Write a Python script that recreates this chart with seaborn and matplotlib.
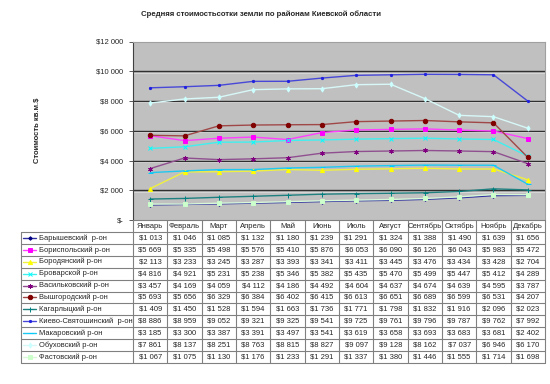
import numpy as np
import pandas as pd
import matplotlib
matplotlib.use("Agg")
import matplotlib.pyplot as plt
from matplotlib.lines import Line2D
import seaborn as sns

months = ["Январь", "Февраль", "Март", "Апрель", "Май", "Июнь", "Июль",
          "Август", "Сентябрь", "Октябрь", "Ноябрь", "Декабрь"]

districts = ["Барышевский  р-он", "Бориспольский р-он", "Бородянский р-он",
             "Броварской р-он", "Васильковский р-он", "Вышгородский р-он",
             "Кагарлыцкий р-он", "Киево-Святошинский  р-он", "Макаровский р-он",
             "Обуховский р-он", "Фастовский р-он"]

baryshevsky = [1013, 1046, 1085, 1132, 1180, 1239, 1291, 1324, 1388, 1490, 1639, 1656]
borispolsky = [5669, 5335, 5498, 5576, 5410, 5876, 6053, 6090, 6126, 6043, 5983, 5472]
borodyansky = [2113, 3233, 3245, 3287, 3393, 3341, 3411, 3445, 3476, 3434, 3428, 2704]
brovarskoy = [4816, 4921, 5231, 5238, 5346, 5382, 5435, 5470, 5499, 5447, 5412, 4289]
vasilkovsky = [3457, 4169, 4059, 4112, 4186, 4492, 4604, 4637, 4674, 4639, 4595, 3787]
vyshgorodsky = [5693, 5656, 6329, 6384, 6402, 6415, 6613, 6651, 6689, 6599, 6531, 4207]
kagarlytsky = [1409, 1450, 1528, 1594, 1663, 1736, 1771, 1798, 1832, 1916, 2096, 2023]
kievo_svyatoshinsky = [8886, 8959, 9052, 9321, 9325, 9541, 9725, 9761, 9796, 9787, 9762, 7992]
makarovsky = [3185, 3300, 3387, 3391, 3497, 3541, 3619, 3658, 3693, 3683, 3681, 2402]
obukhovsky = [7861, 8137, 8251, 8763, 8815, 8827, 9097, 9128, 8162, 7037, 6946, 6170]
fastovsky = [1067, 1075, 1130, 1176, 1233, 1291, 1337, 1380, 1446, 1555, 1714, 1698]

series = [baryshevsky, borispolsky, borodyansky, brovarskoy, vasilkovsky,
          vyshgorodsky, kagarlytsky, kievo_svyatoshinsky, makarovsky,
          obukhovsky, fastovsky]

colors = ["#000080", "#FF00FF", "#FFFF00", "#00FFFF", "#800080", "#800000",
          "#008080", "#2020E0", "#00CCFF", "#CCFFFF", "#CCFFCC"]
line_colors = ["#3030A0", "#FF40FF", "#F0F040", "#40F0F0", "#905090", "#A04848",
               "#208080", "#4848D8", "#20C8F0", "#D8F8F8", "#D8F8D8"]
markers = ["D", "s", "^", "x", (6, 2, 0), "o", "+", "o", "_", "d", "s"]
msizes = [1.8, 3.0, 3.0, 3.0, 3.2, 3.2, 3.6, 1.6, 3.6, 2.6, 3.0]

yticks = [0, 2000, 4000, 6000, 8000, 10000, 12000]
ytick_labels = ["$-", "$2 000", "$4 000", "$6 000", "$8 000", "$10 000", "$12 000"]

rows = []
for name, vals in zip(districts, series):
    for i, v in enumerate(vals):
        rows.append({"district": name, "pos": i, "value": v})
df = pd.DataFrame(rows)

sns.set_theme(style="white")
plt.rcParams["font.family"] = ["Liberation Sans", "DejaVu Sans"]

W, H = 550, 384
fig = plt.figure(figsize=(W / 100, H / 100), dpi=100)

def fx(x):
    return x / W

def fy(y):
    return 1 - y / H

ax_l, ax_r, ax_t, ax_b = 133, 545, 41.5, 220
ax = fig.add_axes([fx(ax_l), fy(ax_b), (ax_r - ax_l) / W, (ax_b - ax_t) / H])
ax.set_facecolor("#C0C0C0")

pal = dict(zip(districts, line_colors))
sns.lineplot(data=df, x="pos", y="value", hue="district", palette=pal,
             ax=ax, legend=False, linewidth=1.0, sort=False)
for name, vals, c, m, s in zip(districts, series, colors, markers, msizes):
    ax.plot(range(len(months)), vals, linestyle="none", marker=m,
            markersize=s, color=c, markeredgecolor=c, markeredgewidth=0.7, zorder=4)

ax.set_xlim(-0.5, len(months) - 0.5)
ax.set_ylim(0, 12000)
ax.set_yticks(yticks)
ax.set_yticklabels(ytick_labels, fontsize=5.5)
ax.set_xticks([])
ax.set_xlabel("")
ax.set_ylabel("")
for yv in yticks[1:-1]:
    ax.axhline(yv, color="#303030", linewidth=1.0, zorder=1)
    ax.axhline(yv - 90, color="#E0E0E0", linewidth=0.5, zorder=1)
ax.tick_params(axis="y", length=3, width=0.6, color="#404040", pad=4, left=True)
for side in ["top", "right"]:
    ax.spines[side].set_color("#A0A0A0")
    ax.spines[side].set_linewidth(0.8)
ax.spines["left"].set_color("#404040")
ax.spines["left"].set_linewidth(0.8)
ax.spines["bottom"].set_visible(False)

fig.text(fx(261), fy(14), "Средняя стоимостьсотки земли по районам Киевской области",
         ha="center", va="center", fontsize=5.6, fontweight="bold")
fig.text(fx(37), fy(130.5), "Стоимость кв.м.$", rotation=90, ha="center",
         va="center", fontsize=5.5, fontweight="bold")

# data table
tab_l = 21
col_w = (ax_r - ax_l) / len(months)
head_t, head_b = ax_b, 232
row_h = 11.9
n = len(districts)
tab_b = head_b + row_h * n
lc = "#808080"

def hline(y, x0, x1):
    fig.add_artist(Line2D([fx(x0), fx(x1)], [fy(y), fy(y)], color=lc, linewidth=0.8))

def vline(x, y0, y1):
    fig.add_artist(Line2D([fx(x), fx(x)], [fy(y0), fy(y1)], color=lc, linewidth=0.8))

hline(head_t, ax_l, ax_r)
for i in range(n + 1):
    hline(head_b + row_h * i, tab_l, ax_r)
vline(tab_l, head_b, tab_b)
for j in range(len(months) + 1):
    vline(ax_l + col_w * j, head_t, tab_b)

for j, mth in enumerate(months):
    fig.text(fx(ax_l + col_w * (j + 0.5)), fy((head_t + head_b) / 2 + 0.3), mth,
             ha="center", va="center", fontsize=5.5)

for i, (name, vals, c, lcol, m, s) in enumerate(zip(districts, series, colors,
                                                   line_colors, markers, msizes)):
    yc = head_b + row_h * (i + 0.5)
    fig.add_artist(Line2D([fx(23), fx(36)], [fy(yc), fy(yc)], color=lcol, linewidth=1.0))
    fig.add_artist(Line2D([fx(29.5)], [fy(yc)], marker=m, markersize=s,
                          color=c, markeredgecolor=c, markeredgewidth=0.7, linestyle="none"))
    fig.text(fx(38.5), fy(yc), name, ha="left", va="center", fontsize=5.4)
    for j, v in enumerate(vals):
        txt = "$" + f"{v:,}".replace(",", " ")
        fig.text(fx(ax_l + col_w * (j + 0.5)), fy(yc), txt, ha="center",
                 va="center", fontsize=5.5)

fig.savefig("out.png", dpi=100)
